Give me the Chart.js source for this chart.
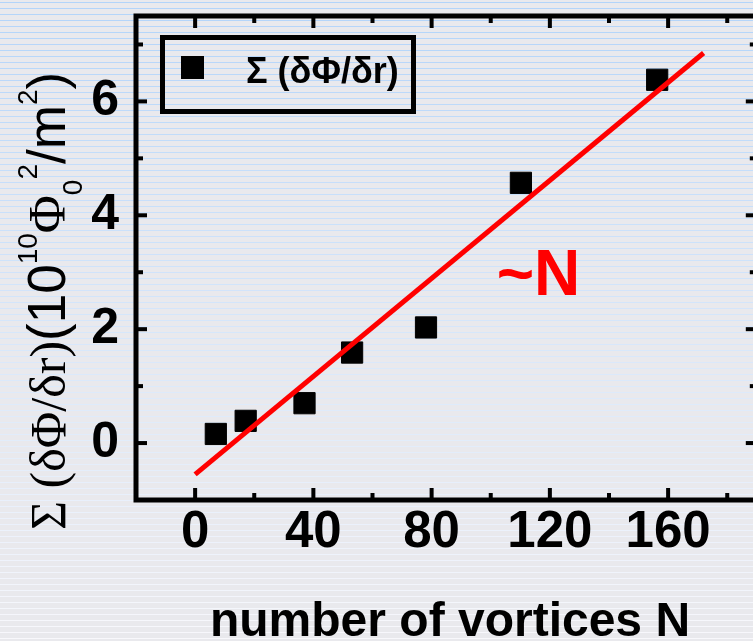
<!DOCTYPE html>
<html>
<head>
<meta charset="utf-8">
<script src="https://cdn.jsdelivr.net/npm/chart.js@4.4.0/dist/chart.umd.min.js"></script>
<style>
  html, body { margin: 0; padding: 0; overflow: hidden; background: #e9e9ed; }
  #wrap { width: 753px; height: 641px; overflow: hidden; }
</style>
</head>
<body>
<div id="wrap"><canvas id="grafico" width="800" height="641" style="width:800px;height:641px"></canvas></div>
<script>
// valores
const vortices = [7.0, 17.1, 37.0, 53.1, 78.1, 110.2, 156.3];
const somaGrad = [0.16, 0.39, 0.70, 1.59, 2.03, 4.57, 6.38];
// reta de ajuste (~N)
const ajusteX = [0, 172];
const ajusteY = [-0.55, 6.85];

const xTicks = [0, 40, 80, 120, 160];
const xMinor = [20, 60, 100, 140, 180];
const yTicks = [0, 2, 4, 6];
const yMinor = [1, 3, 5, 7];

const legenda = "Σ (δΦ/δr)";
const tituloX = "number of vortices N";
const anotacao = { texto: "~N", x: 102, y: 2.6 };

const SANS = "'Liberation Sans', Arial, sans-serif";
const SERIF = "'Liberation Serif', 'Times New Roman', serif";

// fundo listrado
const fundoPlugin = {
    id: 'fundo',
    beforeDraw(chart) {
        const ctx = chart.ctx;
        const w = chart.width, h = chart.height;
        ctx.save();
        ctx.fillStyle = '#e9e9ed';
        ctx.fillRect(0, 0, w, h);
        for (let yy = 2; yy < h; yy += 6) {
            const t = yy / h;
            const r = Math.round(178 + (248 - 178) * t);
            const g = Math.round(212 + (248 - 212) * t);
            const b = Math.round(250 + (252 - 250) * t);
            ctx.fillStyle = `rgb(${r},${g},${b})`;
            ctx.fillRect(0, yy, w, 1);
        }
        ctx.restore();
    }
};

function desenhaTituloY(ctx) {
    const partes = [
        { t: "Σ (δΦ/δr)", f: `50px ${SERIF}`, dy: 0 },
        { t: "(10", f: `53px ${SANS}`, dy: 0 },
        { t: "10", f: `28px ${SANS}`, dy: -28 },
        { t: "Φ", f: `52px ${SERIF}`, dy: 0 },
        { t: "0", f: `28px ${SANS}`, dy: 17 },
        { t: "2", f: `28px ${SANS}`, dy: -28 },
        { t: "/m", f: `53px ${SANS}`, dy: 0 },
        { t: "2", f: `28px ${SANS}`, dy: -28 },
        { t: ")", f: `53px ${SANS}`, dy: 0 }
    ];
    ctx.save();
    ctx.translate(65, 530);
    ctx.rotate(-Math.PI / 2);
    ctx.fillStyle = '#000';
    ctx.textBaseline = 'alphabetic';
    ctx.textAlign = 'left';
    let pos = 0;
    partes.forEach((p) => {
        ctx.font = p.f;
        ctx.fillText(p.t, pos, p.dy);
        pos += ctx.measureText(p.t).width;
    });
    ctx.restore();
}

// quadro, marcas para dentro, legenda, textos
const eixosPlugin = {
    id: 'eixos',
    afterDraw(chart) {
        const ctx = chart.ctx;
        const a = chart.chartArea;
        const x = chart.scales.x, y = chart.scales.y;
        ctx.save();

        ctx.strokeStyle = '#000';
        ctx.lineWidth = 5;
        ctx.strokeRect(a.left, a.top, a.right - a.left, a.bottom - a.top);

        ctx.fillStyle = '#000';
        const marcaX = (vals, len) => {
            vals.forEach((v) => {
                const px = x.getPixelForValue(v);
                ctx.fillRect(px - 2, a.bottom - len, 4, len);
                ctx.fillRect(px - 2, a.top, 4, len);
            });
        };
        const marcaY = (vals, len) => {
            vals.forEach((v) => {
                const py = y.getPixelForValue(v);
                ctx.fillRect(a.left, py - 2, len, 4);
                ctx.fillRect(a.right - len, py - 2, len, 4);
            });
        };
        marcaX(xTicks, 12);
        marcaX(xMinor, 7);
        marcaY(yTicks, 11);
        marcaY(yMinor, 7);

        // legenda
        const ds = chart.data.datasets[1];
        ctx.lineWidth = 5;
        ctx.strokeRect(162.5, 37.5, 251, 74);
        ctx.fillRect(181, 56, 23, 23);
        ctx.font = `bold 36px ${SANS}`;
        ctx.textBaseline = 'alphabetic';
        ctx.textAlign = 'left';
        ctx.fillText(ds.label, 246, 83);

        // ~N
        ctx.fillStyle = '#ff0000';
        ctx.font = `bold 64px ${SANS}`;
        ctx.fillText(anotacao.texto, x.getPixelForValue(anotacao.x), y.getPixelForValue(anotacao.y));

        // título x
        ctx.fillStyle = '#000';
        ctx.font = `bold 48px ${SANS}`;
        ctx.textAlign = 'center';
        ctx.fillText(tituloX, 450, 636);

        desenhaTituloY(ctx);
        ctx.restore();
    }
};

const ctx = document.getElementById('grafico').getContext('2d');
const grafico = new Chart(ctx, {
    type: 'scatter',
    data: {
        datasets: [
            {
                type: 'line',
                label: 'ajuste',
                data: ajusteX.map((v, i) => ({ x: v, y: ajusteY[i] })),
                borderColor: '#ff0000',
                borderWidth: 5,
                pointRadius: 0,
                fill: false,
                order: 0
            },
            {
                label: legenda,
                data: vortices.map((v, i) => ({ x: v, y: somaGrad[i] })),
                pointStyle: 'rect',
                pointRadius: 15,
                backgroundColor: '#000',
                borderColor: '#000',
                borderWidth: 1,
                order: 1
            }
        ]
    },
    options: {
        responsive: false,
        animation: false,
        layout: { padding: { top: 10.8, right: 43.2, left: 0, bottom: 0 } },
        plugins: {
            legend: { display: false },
            tooltip: { enabled: false }
        },
        scales: {
            x: {
                type: 'linear',
                min: -20,
                max: 190,
                grid: { display: false },
                border: { display: false },
                afterBuildTicks: (s) => { s.ticks = xTicks.map((v) => ({ value: v })); },
                afterFit: (s) => {
                    s.height = 141;
                    s.paddingLeft = 0; s.paddingRight = 0; s.paddingTop = 0; s.paddingBottom = 0;
                },
                ticks: {
                    color: '#000',
                    padding: -6,
                    maxRotation: 0,
                    font: { family: SANS, size: 51, weight: 'bold' }
                }
            },
            y: {
                type: 'linear',
                min: -1,
                max: 7.5,
                grid: { display: false },
                border: { display: false },
                afterBuildTicks: (s) => { s.ticks = yTicks.map((v) => ({ value: v })); },
                afterFit: (s) => {
                    s.width = 136;
                    s.paddingLeft = 0; s.paddingRight = 0; s.paddingTop = 0; s.paddingBottom = 0;
                },
                ticks: {
                    color: '#000',
                    padding: 9,
                    font: { family: SANS, size: 50, weight: 'bold' }
                }
            }
        }
    },
    plugins: [fundoPlugin, eixosPlugin]
});
</script>
</body>
</html>
